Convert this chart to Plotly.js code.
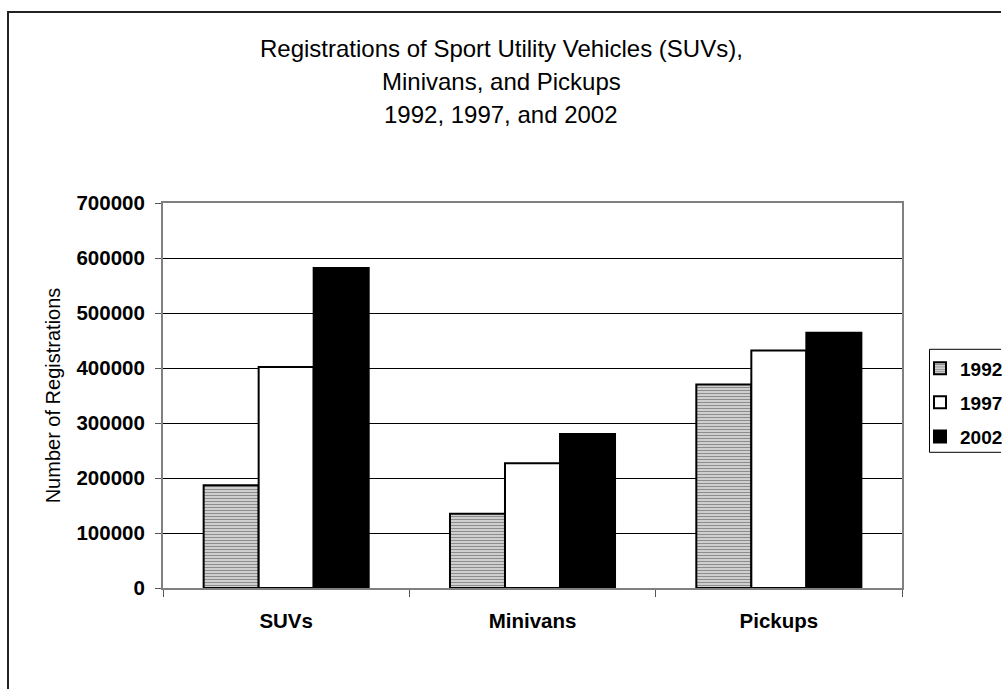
<!DOCTYPE html>
<html>
<head>
<meta charset="utf-8">
<script src="https://cdn.plot.ly/plotly-3.0.1.min.js"></script>
<style>
  html, body { margin: 0; padding: 0; background: #fff; overflow: hidden; }
  #chart { width: 1002px; height: 689px; }
</style>
</head>
<body>
<div id="chart"></div>
<script>
const categories = ["SUVs", "Minivans", "Pickups"];
const years = ["1992", "1997", "2002"];
const values1992 = [187000, 135000, 370000];
const values1997 = [402000, 227000, 432000];
const values2002 = [582000, 280000, 464000];
const titleLines = [
  "Registrations of Sport Utility Vehicles (SUVs),",
  "Minivans, and Pickups",
  "1992, 1997, and 2002"
];
const yTitle = "Number of Registrations";

const FONT = "Liberation Sans, Arial, sans-serif";
const L = 163, R = 902, T = 203, B = 588, W = 1002, H = 689;
const px2x = (x) => (x - L) / (R - L);
const px2y = (y) => (B - y) / (B - T);

const traces = [
  {
    type: "bar", name: years[0], x: categories, y: values1992, legend: "legend",
    marker: {
      color: "#c8c8c8",
      line: { color: "#000", width: 2 },
      pattern: { shape: "-", bgcolor: "#cfcfcf", fgcolor: "#8c8c8c", size: 3, solidity: 0.35 }
    }
  },
  {
    type: "bar", name: years[1], x: categories, y: values1997, legend: "legend2",
    marker: { color: "#ffffff", line: { color: "#000", width: 2 } }
  },
  {
    type: "bar", name: years[2], x: categories, y: values2002, legend: "legend3",
    marker: { color: "#000000", line: { color: "#000", width: 2 } }
  }
];

const legendBase = {
  xref: "container", yref: "container",
  xanchor: "left", yanchor: "middle", x: 920 / W,
  bgcolor: "rgba(0,0,0,0)", borderwidth: 0,
  font: { family: FONT, size: 19, color: "#000", weight: "bold" }
};

const titleBaselines = [56.7, 90, 123.3];
const annotations = titleLines.map((t, i) => ({
  text: t, xref: "paper", yref: "paper",
  x: px2x(501), y: px2y(titleBaselines[i] - 8.4),
  xanchor: "center", yanchor: "middle", showarrow: false,
  font: { family: FONT, size: 24, color: "#000" }
}));

const P = (x, y) => px2x(x).toFixed(5) + "," + px2y(y).toFixed(5);
const framePath = "M" + P(8, 689) + " L" + P(8, 12) + " L" + P(1001, 12);
const legendPath = "M" + P(1001, 349.3) + " L" + P(929.5, 349.3) + " L" + P(929.5, 452.3) + " L" + P(1001, 452.3);

const layout = {
  width: W, height: H, autosize: false,
  margin: { l: L, r: W - R, t: T, b: H - B, pad: 0, autoexpand: false },
  paper_bgcolor: "#fff", plot_bgcolor: "#fff",
  showlegend: true,
  bargap: 0.33, bargroupgap: 0, barmode: "group",
  font: { family: FONT, color: "#000" },
  xaxis: {
    type: "category",
    showline: true, linecolor: "#808080", linewidth: 2, mirror: true,
    ticks: "outside", tickson: "boundaries", ticklen: 7, tickcolor: "#555", tickwidth: 1,
    showgrid: false, zeroline: false,
    ticklabelstandoff: 13,
    tickfont: { family: FONT, size: 20.5, color: "#000", weight: "bold" }
  },
  yaxis: {
    range: [0, 700000], dtick: 100000, tick0: 0, tickformat: "d",
    showline: true, linecolor: "#808080", linewidth: 2, mirror: true,
    ticks: "outside", ticklen: 6, tickcolor: "#555", tickwidth: 1,
    showgrid: true, gridcolor: "#000", gridwidth: 1, zeroline: false,
    ticklabelstandoff: 6,
    tickfont: { family: FONT, size: 20.5, color: "#000", weight: "bold" },
    title: { text: yTitle, font: { family: FONT, size: 20, color: "#000" }, standoff: 10 }
  },
  legend: Object.assign({}, legendBase, { y: 1 - 368.3 / H }),
  legend2: Object.assign({}, legendBase, { y: 1 - 402.3 / H }),
  legend3: Object.assign({}, legendBase, { y: 1 - 436.7 / H }),
  shapes: [
    { type: "path", xref: "paper", yref: "paper", path: legendPath,
      line: { color: "#000", width: 1 }, layer: "below" },
    { type: "path", xref: "paper", yref: "paper", path: framePath,
      line: { color: "#222", width: 2 }, layer: "below" }
  ],
  annotations: annotations
};

Plotly.newPlot("chart", traces, layout, { displayModeBar: false, staticPlot: true });
</script>
</body>
</html>
